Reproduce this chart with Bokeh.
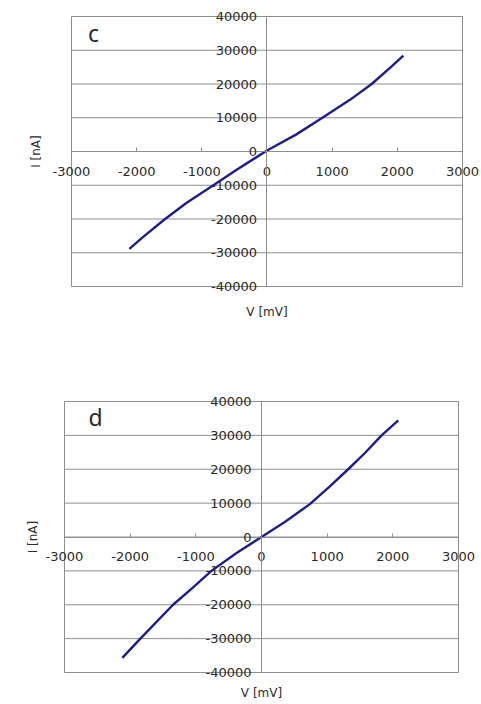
from bokeh.plotting import figure
from bokeh.layouts import column
from bokeh.models import Label, FixedTicker, Range1d
from bokeh.embed import file_html
from bokeh.resources import INLINE

# ---- data ----
c_v = [-2112, -1900, -1564, -1232, -823, -465, 0, 445, 850, 1273, 1606, 1887, 2093]
c_i = [-28830, -25300, -20000, -15200, -10000, -5400, 300, 5000, 10000, 15300, 20000, 24800, 28440]

d_v = [-2119, -1845, -1347, -1050, -762, -380, 0, 355, 736, 1041, 1320, 1575, 1829, 2083]
d_i = [-35700, -30000, -20000, -15000, -10000, -4700, 0, 4420, 9700, 14960, 20000, 24800, 30000, 34430]

x_ticks = [-3000, -2000, -1000, 0, 1000, 2000, 3000]
x_tick_labels = ["-3000", "-2000", "-1000", "0", "1000", "2000", "3000"]
y_ticks = [-40000, -30000, -20000, -10000, 0, 10000, 20000, 30000, 40000]
y_tick_labels = ["-40000", "-30000", "-20000", "-10000", "0", "10000", "20000", "30000", "40000"]

x_title = "V [mV]"
y_title = "I [nA]"
panel_labels = ["c", "d"]

GRID = "#8e8e8e"
TXT = "#2a2a2a"
LINE = "#1e1e84"
FONT = "DejaVu Sans"


def make_panel(v, i, tag, height, xr, yr, xt_y, yt_x, tag_xy):
    p = figure(width=481, height=height, output_backend="svg", toolbar_location=None,
               x_range=Range1d(*xr), y_range=Range1d(*yr),
               min_border_left=0, min_border_right=0,
               min_border_top=0, min_border_bottom=0)
    p.outline_line_color = None
    p.grid.visible = False

    x0, x1 = x_ticks[0], x_ticks[-1]
    y0, y1 = y_ticks[0], y_ticks[-1]
    # horizontal grid lines (incl. top/bottom of box)
    p.segment(x0=[x0] * len(y_ticks), x1=[x1] * len(y_ticks), y0=y_ticks, y1=y_ticks,
              line_color=GRID, line_width=1)
    # left/right box edges
    p.segment(x0=[x0, x1], x1=[x0, x1], y0=[y0, y0], y1=[y1, y1],
              line_color=GRID, line_width=1)

    xa = p.xaxis[0]
    xa.fixed_location = 0
    xa.bounds = (x0, x1)
    xa.ticker = FixedTicker(ticks=x_ticks)
    xa.major_label_overrides = {t: s for t, s in zip(x_ticks, x_tick_labels)}
    xa.axis_line_color = GRID
    xa.major_tick_line_color = GRID
    xa.major_tick_in = 4
    xa.major_tick_out = 0
    xa.minor_tick_line_color = None
    xa.major_label_standoff = 15
    xa.major_label_text_font = FONT
    xa.major_label_text_font_size = "13px"
    xa.major_label_text_color = TXT

    ya = p.yaxis[0]
    ya.fixed_location = 0
    ya.bounds = (y0, y1)
    ya.ticker = FixedTicker(ticks=y_ticks)
    ya.major_label_overrides = {t: s for t, s in zip(y_ticks, y_tick_labels)}
    ya.axis_line_color = GRID
    ya.major_tick_line_color = None
    ya.major_tick_in = 0
    ya.major_tick_out = 0
    ya.minor_tick_line_color = None
    ya.major_label_standoff = 10
    ya.major_label_text_font = FONT
    ya.major_label_text_font_size = "13px"
    ya.major_label_text_color = TXT

    p.line(v, i, line_color=LINE, line_width=2.4, line_join="round")

    p.add_layout(Label(x=0, y=xt_y, text=x_title, text_align="center",
                       text_baseline="middle", text_font=FONT,
                       text_font_size="12px", text_color=TXT))
    p.add_layout(Label(x=yt_x, y=0, text=y_title, text_align="center",
                       text_baseline="middle", angle=90, angle_units="deg",
                       text_font=FONT, text_font_size="12px", text_color=TXT))
    p.add_layout(Label(x=tag_xy[0], y=tag_xy[1], text=tag, text_align="center",
                       text_baseline="middle", text_font="Noto Sans",
                       text_font_size="23px", text_color=TXT))
    return p


p1 = make_panel(c_v, c_i, panel_labels[0], 360,
                (-4089.5, 3291.6), (-61926, 44741),
                -47700, -3552, (-2662, 35000))
p2 = make_panel(d_v, d_i, panel_labels[1], 344,
                (-3974.6, 3350.3), (-49446, 52103),
                -46000, -3473, (-2527, 35300))

layout = column(p1, p2, spacing=0)
open("out.html", "w").write(file_html(layout, INLINE))
